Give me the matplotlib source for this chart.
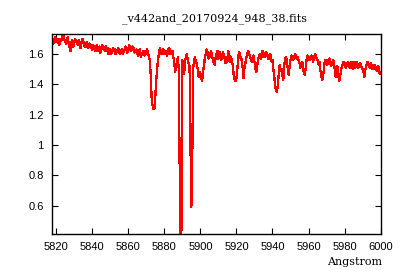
import numpy as np
import matplotlib
matplotlib.use("Agg")
import matplotlib.pyplot as plt
from matplotlib.ticker import FormatStrFormatter

# spectrum on a 1 Angstrom grid, 5818 .. 6000
wave = np.arange(5818, 6001)
flux = [
    1.69, 1.70, 1.68, 1.70, 1.67, 1.69, 1.72, 1.68, 1.70, 1.66,   # 5818
    1.62, 1.69, 1.67, 1.69, 1.66, 1.68, 1.67, 1.69, 1.65, 1.68,   # 5828
    1.65, 1.66, 1.63, 1.65, 1.64, 1.62, 1.65, 1.63, 1.64, 1.62,   # 5838
    1.62, 1.60, 1.63, 1.61, 1.62, 1.60, 1.63, 1.61, 1.62, 1.60,   # 5848
    1.63, 1.64, 1.62, 1.65, 1.63, 1.64, 1.62, 1.60, 1.62, 1.58,   # 5858
    1.61, 1.59, 1.62, 1.60, 1.56, 1.30, 1.235, 1.32, 1.50, 1.60,  # 5868
    1.62, 1.63, 1.60, 1.62, 1.61, 1.63, 1.60, 1.58, 1.48, 1.55,   # 5878
    1.50, 0.415, 1.56, 1.47, 1.58, 1.56, 1.52, 0.59, 1.50, 1.58,  # 5888
    1.54, 1.45, 1.47, 1.42, 1.52, 1.60, 1.61, 1.58, 1.62, 1.56,   # 5898
    1.53, 1.60, 1.57, 1.61, 1.58, 1.60, 1.54, 1.55, 1.60, 1.58,   # 5908
    1.52, 1.43, 1.44, 1.58, 1.60, 1.57, 1.44, 1.54, 1.60, 1.61,   # 5918
    1.57, 1.58, 1.55, 1.48, 1.56, 1.60, 1.58, 1.61, 1.59, 1.60,   # 5928
    1.57, 1.59, 1.56, 1.45, 1.36, 1.40, 1.53, 1.50, 1.43, 1.57,   # 5938
    1.55, 1.46, 1.56, 1.58, 1.57, 1.59, 1.58, 1.54, 1.53, 1.50,   # 5948
    1.46, 1.57, 1.58, 1.56, 1.58, 1.57, 1.59, 1.56, 1.55, 1.46,   # 5958
    1.44, 1.55, 1.54, 1.56, 1.55, 1.53, 1.55, 1.45, 1.52, 1.42,   # 5968
    1.49, 1.53, 1.54, 1.52, 1.55, 1.51, 1.53, 1.55, 1.51, 1.54,   # 5978
    1.52, 1.53, 1.50, 1.45, 1.52, 1.54, 1.51, 1.53, 1.50, 1.52,   # 5988
    1.49, 1.51, 1.48,                                             # 5998
]

# the in-between samples, 5818.5 .. 5999.5
wave_half = np.arange(5818.5, 6000, 1.0)
flux_half = [
    1.67, 1.71, 1.69, 1.66, 1.70, 1.73, 1.70, 1.67, 1.71, 1.64,   # 5818.5
    1.68, 1.65, 1.70, 1.67, 1.69, 1.64, 1.70, 1.66, 1.67, 1.64,   # 5828.5
    1.67, 1.64, 1.66, 1.62, 1.66, 1.64, 1.61, 1.66, 1.63, 1.65,   # 5838.5
    1.64, 1.62, 1.60, 1.64, 1.63, 1.61, 1.64, 1.60, 1.63, 1.62,   # 5848.5
    1.65, 1.61, 1.66, 1.62, 1.65, 1.61, 1.63, 1.59, 1.63, 1.60,   # 5858.5
    1.62, 1.60, 1.63, 1.58, 1.45, 1.26, 1.24, 1.42, 1.56, 1.64,   # 5868.5
    1.60, 1.63, 1.61, 1.59, 1.64, 1.60, 1.62, 1.55, 1.52, 1.58,   # 5878.5
    0.87, 0.44, 1.50, 1.55, 1.60, 1.54, 1.01, 0.89, 1.56, 1.55,   # 5888.5
    1.50, 1.48, 1.44, 1.49, 1.58, 1.63, 1.57, 1.60, 1.58, 1.54,   # 5898.5
    1.58, 1.62, 1.59, 1.56, 1.61, 1.57, 1.58, 1.62, 1.55, 1.56,   # 5908.5
    1.46, 1.42, 1.50, 1.61, 1.56, 1.50, 1.52, 1.58, 1.62, 1.58,   # 5918.5
    1.55, 1.59, 1.51, 1.52, 1.59, 1.57, 1.62, 1.58, 1.61, 1.57,   # 5928.5
    1.60, 1.55, 1.50, 1.38, 1.35, 1.47, 1.49, 1.46, 1.52, 1.58,   # 5938.5
    1.50, 1.52, 1.59, 1.56, 1.60, 1.57, 1.56, 1.51, 1.55, 1.47,   # 5948.5
    1.52, 1.59, 1.56, 1.59, 1.55, 1.60, 1.57, 1.53, 1.50, 1.43,   # 5958.5
    1.50, 1.56, 1.53, 1.57, 1.52, 1.56, 1.50, 1.48, 1.46, 1.45,   # 5968.5
    1.52, 1.55, 1.51, 1.54, 1.52, 1.55, 1.50, 1.52, 1.55, 1.51,   # 5978.5
    1.54, 1.51, 1.48, 1.50, 1.55, 1.52, 1.54, 1.50, 1.53, 1.50,   # 5988.5
    1.52, 1.47,                                                   # 5998.5
]

title = "_v442and_20170924_948_38.fits"
xticks = [5820, 5840, 5860, 5880, 5900, 5920, 5940, 5960, 5980, 6000]
yticks = [0.6, 0.8, 1.0, 1.2, 1.4, 1.6]

w = np.concatenate([wave, wave_half])
f = np.concatenate([flux, flux_half])
order = np.argsort(w)
w, f = w[order], f[order]

fig = plt.figure(figsize=(4, 2.8), dpi=100)
ax = fig.add_axes([0.13, 0.166, 0.8225, 0.714])
ax.plot(w, f, color="red", linewidth=0.9, antialiased=False)

ax.set_xlim(5817.7, 6000.2)
ax.set_ylim(0.415, 1.735)
ax.set_xticks(xticks)
ax.set_yticks(yticks)
ax.yaxis.set_major_formatter(FormatStrFormatter("%g"))
ax.tick_params(direction="in", length=4, width=0.8, top=True, right=True,
               labelsize=8, pad=6, colors="black")
for lab in ax.get_xticklabels() + ax.get_yticklabels():
    lab.set_family("Liberation Sans")
for sp in ax.spines.values():
    sp.set_linewidth(1.0)

fig.text(0.535, 0.932, title, ha="center", va="center", fontsize=8,
         family="DejaVu Serif")
fig.text(0.955, 0.064, "Angstrom", ha="right", va="center", fontsize=8,
         family="DejaVu Serif")

fig.savefig("out.png", dpi=100)
